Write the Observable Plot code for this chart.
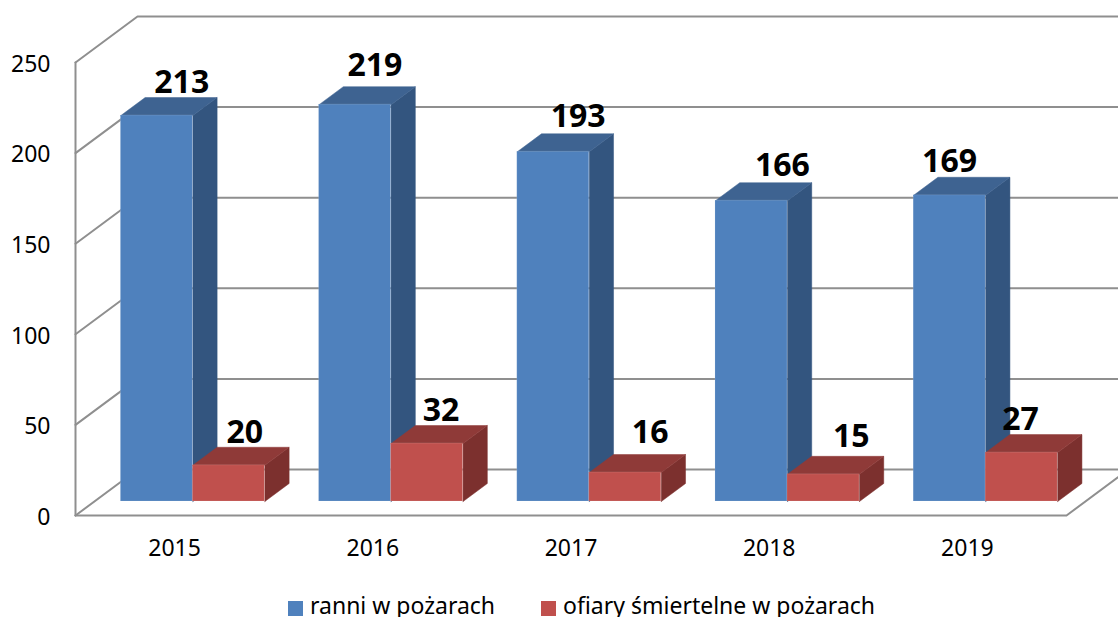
<!DOCTYPE html>
<html lang="pl"><head><meta charset="utf-8">
<script src="https://cdn.jsdelivr.net/npm/d3@7"></script>
<script src="https://cdn.jsdelivr.net/npm/@observablehq/plot@0.6"></script>
<style>
html,body{margin:0;padding:0;background:#fff;overflow:hidden;font-family:"Noto Sans",sans-serif}
#chart svg{display:block}
#legend{display:flex;justify-content:flex-start;align-items:center;height:24px;margin-top:13px;margin-left:288px;font-size:23px;color:#000;line-height:24px}
#legend .s{width:15px;height:15px;margin-right:7px;display:inline-block;position:relative;top:3px}
#legend .i{display:flex;align-items:center;white-space:nowrap}
</style></head><body>
<div id="chart"></div>
<div id="legend"></div>
<script>
const years = ["2015","2016","2017","2018","2019"];
const injured = [213,219,193,166,169];
const deaths = [20,32,16,15,27];
const yTicks = [0,50,100,150,200,250];
const seriesNames = ["ranni w pożarach","ofiary śmiertelne w pożarach"];
const blueFaces = {front:"#4f81bd",top:"#3e6391",side:"#33557f"};
const redFaces = {front:"#c0504d",top:"#8f3a38",side:"#7c302e"};
const gridColor = "#8f8f8f";

// label nudges in pixels (hand placement in the reference)
const injuredNudge = [[0,1],[-5,-5],[0,-1],[6,-1],[-25,0]];
const deathsNudge = [[-9,1],[-11,1],[0,-6],[3,-4],[-26,1]];

const W = 1118, H = 580, left = 75, right = 1066, base = 515, topY = 62;
const pxX = (right-left)/5, pxV = (base-topY)/250;
const depthX = 62/pxX, depthV = 46/pxV;     // oblique projection of the depth axis
const proj = (x,v,d) => ({x:x+d*depthX, y:v+d*depthV});
const dFront = 14/46, dBack = 32/46, barW = 72/pxX, shift = -0.6/pxX;

const faces = [], fronts = [];
function addBar(id,x0,x1,v,col){
  const poly=(name,pts)=>pts.forEach(p=>faces.push({...proj(...p),id:id+name,fill:col[name]}));
  poly("side",[[x1,0,dFront],[x1,0,dBack],[x1,v,dBack],[x1,v,dFront],[x1,0,dFront]]);
  poly("top",[[x0,v,dFront],[x1,v,dFront],[x1,v,dBack],[x0,v,dBack],[x0,v,dFront]]);
  const a=proj(x0,0,dFront), b=proj(x1,v,dFront);
  fronts.push({x1:a.x,x2:b.x,y1:a.y,y2:b.y,fill:col.front});
}
const blueFacesData=[],redFacesData=[],blueFronts=[],redFronts=[];
years.forEach((yr,i)=>{
  addBar("b"+i,i+.5-barW+shift,i+.5+shift,injured[i],blueFaces);
});
blueFacesData.push(...faces.splice(0)); blueFronts.push(...fronts.splice(0));
years.forEach((yr,i)=>{
  addBar("r"+i,i+.5+shift,i+.5+barW+shift,deaths[i],redFaces);
});
redFacesData.push(...faces.splice(0)); redFronts.push(...fronts.splice(0));

// walls
const walls=[];
yTicks.forEach(v=>{
  [[0,v,0],[0,v,1],[5,v,1]].forEach(p=>walls.push({...proj(...p),id:"g"+v}));
});
[[0,0,0],[0,250,0]].forEach(p=>walls.push({...proj(...p),id:"left"}));
[[0,0,0],[5,0,0],[5,0,1]].forEach(p=>walls.push({...proj(...p),id:"floor"}));

const labels=[];
years.forEach((yr,i)=>{
  const p=proj(i+.5-barW/2,injured[i],dBack);
  labels.push({x:p.x,y:p.y,t:String(injured[i]),dx:injuredNudge[i][0],dy:injuredNudge[i][1]});
  const q=proj(i+.5+barW/2,deaths[i],dBack);
  labels.push({x:q.x,y:q.y,t:String(deaths[i]),dx:deathsNudge[i][0],dy:deathsNudge[i][1]});
});

const faceMark = d => Plot.line(d,{x:"x",y:"y",z:"id",fill:"fill",stroke:"fill",strokeWidth:.5});
const rectMark = d => Plot.rect(d,{x1:"x1",x2:"x2",y1:"y1",y2:"y2",fill:"fill",stroke:"#fff",strokeOpacity:.12,strokeWidth:1});

const chart = Plot.plot({
  width:W,height:H,
  marginLeft:left,marginRight:0,marginTop:topY,marginBottom:H-base,
  style:{fontFamily:"'Noto Sans', sans-serif",background:"#fff",color:"#000"},
  x:{domain:[0,(W-left)/pxX],axis:null},
  y:{domain:[0,250],axis:null},
  marks:[
    Plot.line(walls,{x:"x",y:"y",z:"id",stroke:gridColor,strokeWidth:2}),
    faceMark(blueFacesData),
    rectMark(blueFronts),
    faceMark(redFacesData),
    rectMark(redFronts),
    Plot.axisY({ticks:yTicks,tickSize:0,tickPadding:25,fontSize:23,dy:2,anchor:"left",label:null,fill:"#000"}),
    Plot.axisX({ticks:years.map((_,i)=>i+.5),tickFormat:(d)=>years[Math.floor(d)],tickSize:0,tickPadding:24,fontSize:23,anchor:"bottom",label:null,fill:"#000"}),
    ...labels.map(l=>Plot.text([l],{x:"x",y:"y",text:"t",dx:l.dx,dy:l.dy-16,fontSize:32,fontWeight:"bold",fontFamily:"'Open Sans', sans-serif",fill:"#000"}))
  ]
});
document.getElementById("chart").append(chart);
const leg=document.getElementById("legend");
seriesNames.forEach((n,i)=>{
  const it=document.createElement("span");it.className="i";
  if(i) it.style.marginLeft="46px";
  const s=document.createElement("span");s.className="s";s.style.background=[blueFaces,redFaces][i].front;
  const t=document.createElement("span");t.textContent=n;
  it.append(s,t);leg.append(it);
});
</script>
</body></html>
